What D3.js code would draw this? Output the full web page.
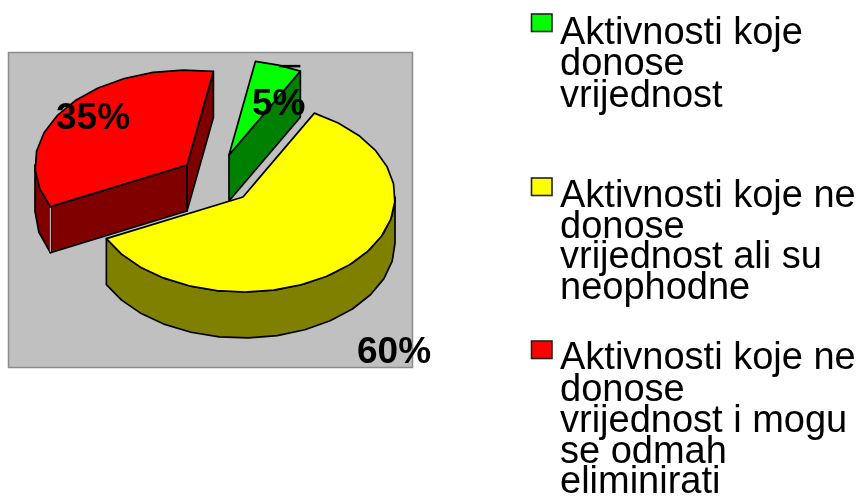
<!DOCTYPE html>
<html><head><meta charset="utf-8">
<script src="https://cdnjs.cloudflare.com/ajax/libs/d3/7.8.5/d3.min.js"></script>
<style>html,body{margin:0;padding:0;background:#fff}svg{display:block;filter:blur(0.45px)}</style>
</head><body>
<svg id="c" width="859" height="496"></svg>
<script>
const categories = ["Aktivnosti koje donose vrijednost","Aktivnosti koje ne donose vrijednost ali su neophodne","Aktivnosti koje ne donose vrijednost i mogu se odmah eliminirati"];
const values = [5,60,35];
const valueLabels = ["5%","60%","35%"];
const topColors = ["#00ff00","#ffff00","#ff0000"];
const wallColors = ["#008000","#808000","#800000"];
const legendLines = [["Aktivnosti koje","donose","vrijednost"],["Aktivnosti koje ne","donose","vrijednost ali su","neophodne"],["Aktivnosti koje ne","donose","vrijednost i mogu","se odmah","eliminirati"]];
const legendBaselines = [[44,75,107],[207,238,268,299],[369,401,432,463,493]];
const legendBoxY = [14,178,341];
const apexes = [[229,155],[243,197],[187,165]];
const labelPos = [[252,115],[357,363],[56,129]];

const svg = d3.select("#c");
const rx = 152, ry = 95, depth = 46, deg = Math.PI/180;
const pie = d3.pie().sort(null).startAngle(10*deg).endAngle(370*deg);
const arcs = pie(values);
const line = d3.line();
const pt = (i,a,dz=0)=>[apexes[i][0]+rx*Math.sin(a), apexes[i][1]-ry*Math.cos(a)+dz];
const samples = (a0,a1)=>{const n=Math.max(2,Math.round((a1-a0)/(11*deg)));return d3.range(n+1).map(k=>a0+(a1-a0)*k/n);};

svg.append("rect").attr("x",8.5).attr("y",52.5).attr("width",404).attr("height",315)
  .attr("fill","#c0c0c0").attr("stroke","#8c8c8c").attr("stroke-width",1.5);

const stroke = s=>s.attr("stroke","#000").attr("stroke-width",1.7).attr("stroke-linejoin","round");
[0,2,1].forEach(i=>{
  const d = arcs[i], a0=d.startAngle, a1=d.endAngle, ap=apexes[i];
  const g = svg.append("g");
  const radial = a=>{
    const p=pt(i,a);
    g.append("path").attr("d",line([ap,p,[p[0],p[1]+depth],[ap[0],ap[1]+depth]])+"Z").attr("fill",wallColors[i]).call(stroke);
  };
  if(Math.sin(a1)>0) radial(a1);
  if(Math.sin(a0)<0) radial(a0);
  // outer rim wall, only the part facing the viewer
  const w0=Math.max(a0,90*deg), w1=Math.min(a1,270*deg);
  if(w1>w0){
    const as=samples(w0,w1);
    const pts=as.map(a=>pt(i,a)).concat(as.slice().reverse().map(a=>pt(i,a,depth)));
    g.append("path").attr("d",line(pts)+"Z").attr("fill",wallColors[i]).call(stroke);
  }
  const rim=samples(a0,a1).map(a=>pt(i,a));
  g.append("path").attr("d",line([ap,...rim])+"Z").attr("fill",topColors[i]).call(stroke);
  if(i===2){ // pale seam where the rim wall meets the cut face
    const p=pt(i,a0);
    g.append("line").attr("x1",p[0]).attr("x2",p[0]).attr("y1",p[1]+1).attr("y2",p[1]+depth-1).attr("stroke","#b8b8b8").attr("stroke-width",1.2);
  }
});

// short leader on the green slice
const lead=pt(0,arcs[0].endAngle);
svg.append("line").attr("x1",lead[0]-21).attr("x2",lead[0]).attr("y1",lead[1]-5).attr("y2",lead[1]-5).attr("stroke","#000").attr("stroke-width",2.5);

svg.selectAll("text.val").data(valueLabels).join("text").attr("class","val")
  .attr("x",(d,i)=>labelPos[i][0]).attr("y",(d,i)=>labelPos[i][1])
  .attr("font-family","Liberation Sans, Arial, sans-serif").attr("font-weight","bold").attr("font-size",37).attr("fill","#000").text(d=>d);

const lg = svg.selectAll("g.lg").data(categories).join("g").attr("class","lg");
lg.append("rect").attr("x",531.5).attr("y",(d,i)=>legendBoxY[i]).attr("width",20.5).attr("height",17.5)
  .attr("fill",(d,i)=>topColors[i]).attr("stroke","#222").attr("stroke-width",1.6);
lg.each(function(d,i){
  d3.select(this).selectAll("text").data(legendLines[i]).join("text")
    .attr("x",560).attr("y",(t,k)=>legendBaselines[i][k])
    .attr("font-family","Liberation Sans, Arial, sans-serif").attr("font-size",38).attr("fill","#000").text(t=>t);
});
</script>
</body></html>
